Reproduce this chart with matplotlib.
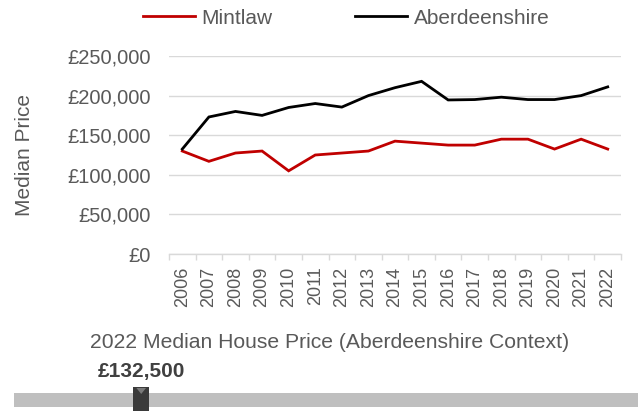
import matplotlib
matplotlib.use("Agg")
import matplotlib.pyplot as plt
from matplotlib.patches import Rectangle, Polygon
from matplotlib.ticker import FuncFormatter, FixedLocator

plt.rcParams['font.family'] = ['Liberation Sans', 'DejaVu Sans']

years = [str(y) for y in range(2006, 2023)]
mintlaw = [130000, 117000, 127500, 130000, 105000, 125000, 127500, 130000, 142500,
           140000, 137500, 137500, 145000, 145000, 132500, 145000, 132500]
aberdeenshire = [132500, 173000, 180000, 175000, 185000, 190000, 185500, 200000, 210000,
                 218000, 194500, 195000, 198000, 195000, 195000, 200000, 211000]
series_names = ["Mintlaw", "Aberdeenshire"]
y_ticks = [0, 50000, 100000, 150000, 200000, 250000]
gauge_value = mintlaw[-1]
gauge_range = [0, 650000]

TXT = "#595959"
W, H = 639, 411
fig = plt.figure(figsize=(W / 100, H / 100), dpi=100)

ax = fig.add_axes([169 / W, 1 - 254 / H, (621 - 169) / W, (254 - 56) / H])
x = list(range(len(years)))
l1, = ax.plot(x, mintlaw, color="#c00000", lw=2.0, solid_joinstyle="miter")
l2, = ax.plot(x, aberdeenshire, color="#000000", lw=2.0, solid_joinstyle="miter")
ax.set_xlim(-0.5, len(years) - 0.5)
ax.set_ylim(0, 250000)
ax.set_yticks(y_ticks)
ax.yaxis.set_major_formatter(FuncFormatter(lambda v, p: "£{:,.0f}".format(v)))
ax.grid(axis="y", color="#d9d9d9", lw=1.0)
ax.set_axisbelow(True)
for s in ["top", "right", "left"]:
    ax.spines[s].set_visible(False)
ax.spines["bottom"].set_color("#d9d9d9")
ax.spines["bottom"].set_linewidth(1.0)
ax.tick_params(axis="y", length=0, pad=13, labelsize=14.5, labelcolor=TXT)
ax.set_xticks(x)
ax.set_xticklabels(years, rotation=90)
ax.tick_params(axis="x", which="major", length=0, pad=9, labelsize=13, labelcolor=TXT)
ax.xaxis.set_minor_locator(FixedLocator([i - 0.5 for i in range(len(years) + 1)]))
ax.tick_params(axis="x", which="minor", length=4, color="#d9d9d9", width=1.0)
fig.text(25 / W, 1 - 155 / H, "Median Price", rotation=90, ha="center", va="center",
         fontsize=15, color=TXT)

fig.legend([l1, l2], series_names, loc="center", bbox_to_anchor=(346 / W, 1 - 18 / H),
           ncol=2, frameon=False, fontsize=15, handlelength=2.5, handletextpad=0.3,
           columnspacing=4.0, labelcolor=TXT)

fig.text(330 / W, 1 - 342 / H, "2022 Median House Price (Aberdeenshire Context)",
         ha="center", va="center", fontsize=15.2, color=TXT)

gx = fig.add_axes([14 / W, 0, (638 - 14) / W, 24 / H])
gx.set_xlim(gauge_range)
gx.set_ylim(0, 24)
gx.axis("off")
gx.add_patch(Rectangle((gauge_range[0], 4), gauge_range[1] - gauge_range[0], 14,
                       color="#bfbfbf", lw=0))
half = (gauge_range[1] - gauge_range[0]) * 8 / 624
gx.add_patch(Rectangle((gauge_value - half, 0), 2 * half, 24, color="#3a3a3a", lw=0))
gx.add_patch(Polygon([(gauge_value - half * 0.6, 23), (gauge_value + half * 0.6, 23),
                      (gauge_value, 17)], color="#7a7a7a", lw=0))
gx.annotate("£{:,.0f}".format(gauge_value), xy=(gauge_value, 24), xycoords="data",
            xytext=(0, 11), textcoords="offset points", ha="center", va="center",
            fontsize=15, fontweight="bold", color="#404040")

fig.savefig("out.png", dpi=100)
